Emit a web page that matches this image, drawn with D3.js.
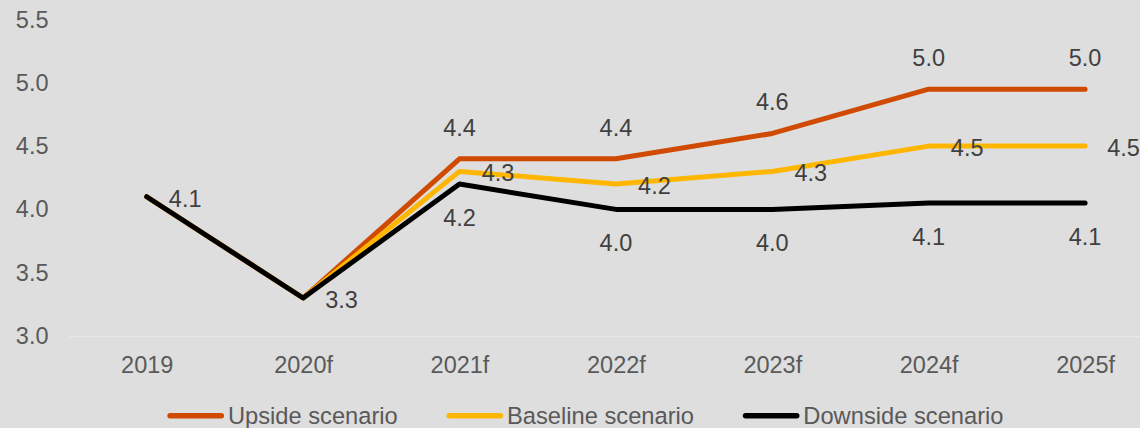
<!DOCTYPE html>
<html>
<head>
<meta charset="utf-8">
<script src="https://cdn.jsdelivr.net/npm/d3@7"></script>
<style>
  html, body { margin: 0; padding: 0; background: #dedede; }
  svg { display: block; font-family: "Liberation Sans", Arial, sans-serif; }
</style>
</head>
<body>
<svg id="chart" width="1140" height="428"></svg>
<script>
// Years on the horizontal axis
const categories = ["2019", "2020f", "2021f", "2022f", "2023f", "2024f", "2025f"];

// Scenario series
const upside   = [4.1, 3.3, 4.4, 4.4, 4.6, 4.95, 4.95];
const baseline = [4.1, 3.3, 4.3, 4.2, 4.3, 4.5, 4.5];
const downside = [4.1, 3.3, 4.2, 4.0, 4.0, 4.05, 4.05];

const seriesNames = ["Upside scenario", "Baseline scenario", "Downside scenario"];

// Value axis ticks
const yTicks = [3.0, 3.5, 4.0, 4.5, 5.0, 5.5];

// Which points carry a value label, per series
const upsideLabelled   = [2, 3, 4, 5, 6];
const baselineLabelled = [2, 3, 4, 5, 6];
const downsideLabelled = [0, 1, 2, 3, 4, 5, 6];

const series = [
  { name: seriesNames[0], values: upside,   color: "#d04a02", labelled: upsideLabelled,   place: () => "above" },
  { name: seriesNames[1], values: baseline, color: "#ffb600", labelled: baselineLabelled, place: () => "right" },
  { name: seriesNames[2], values: downside, color: "#000000", labelled: downsideLabelled, place: i => (i < 2 ? "right" : "below") }
];

const svg = d3.select("#chart");
const FONT = 23.5;
const LEGEND_FONT = 23.7;

const x = d3.scalePoint().domain(categories).range([68.5, 1163.3]).padding(0.5);
const y = d3.scaleLinear().domain([3.0, 5.5]).range([336, 19.5]);

// Value labels: round half up to one decimal
const fmt = v => (Math.round(v * 10) / 10).toFixed(1);

// Y axis (labels only)
const yAxis = svg.append("g")
  .attr("transform", "translate(56.5,0)")
  .call(d3.axisLeft(y).tickValues(yTicks).tickSize(0).tickPadding(8).tickFormat(d3.format(".1f")));
yAxis.select(".domain").remove();
yAxis.selectAll("text")
  .attr("fill", "#595959")
  .style("font-size", FONT + "px")
  .style("font-family", "'Liberation Sans', Arial, sans-serif");

// X axis along the 3.0 baseline
const xAxis = svg.append("g")
  .attr("transform", `translate(0,${y(3.0)})`)
  .call(d3.axisBottom(x).tickSize(0).tickPadding(20));
xAxis.select(".domain").attr("stroke", "#e8e8e8").attr("stroke-width", 1.2);
xAxis.selectAll("text")
  .attr("fill", "#595959")
  .style("font-size", FONT + "px")
  .style("font-family", "'Liberation Sans', Arial, sans-serif");

// Lines
const line = d3.line()
  .x((d, i) => x(categories[i]))
  .y(d => y(d));

svg.append("g").selectAll("path")
  .data(series)
  .join("path")
  .attr("d", s => line(s.values))
  .attr("fill", "none")
  .attr("stroke", s => s.color)
  .attr("stroke-width", 5)
  .attr("stroke-linejoin", "round")
  .attr("stroke-linecap", "round");

// Data labels
const labelG = svg.append("g")
  .style("font-size", FONT + "px")
  .attr("fill", "#404040");

series.forEach(s => {
  s.labelled.forEach(i => {
    const cx = x(categories[i]);
    const cy = y(s.values[i]);
    const where = s.place(i);
    let lx = cx, ly = cy;
    if (where === "above") ly = cy - 31.5;
    else if (where === "below") ly = cy + 33;
    else { lx = cx + 38.5; ly = cy + 1.3; }
    labelG.append("text")
      .attr("x", lx)
      .attr("y", ly)
      .attr("dy", "0.36em")
      .attr("text-anchor", "middle")
      .text(fmt(s.values[i]));
  });
});

// Legend
const legend = svg.append("g").attr("transform", "translate(0,415.7)");
let lx = 167.3;
series.forEach(s => {
  legend.append("line")
    .attr("x1", lx + 2.8).attr("x2", lx + 54)
    .attr("y1", 0).attr("y2", 0)
    .attr("stroke", s.color)
    .attr("stroke-width", 5.5)
    .attr("stroke-linecap", "round");
  const t = legend.append("text")
    .attr("x", lx + 60.6)
    .attr("y", 0)
    .attr("dy", "0.33em")
    .attr("fill", "#595959")
    .style("font-size", LEGEND_FONT + "px")
    .text(s.name);
  lx += 60.6 + t.node().getComputedTextLength() + 48.7;
});
</script>
</body>
</html>
